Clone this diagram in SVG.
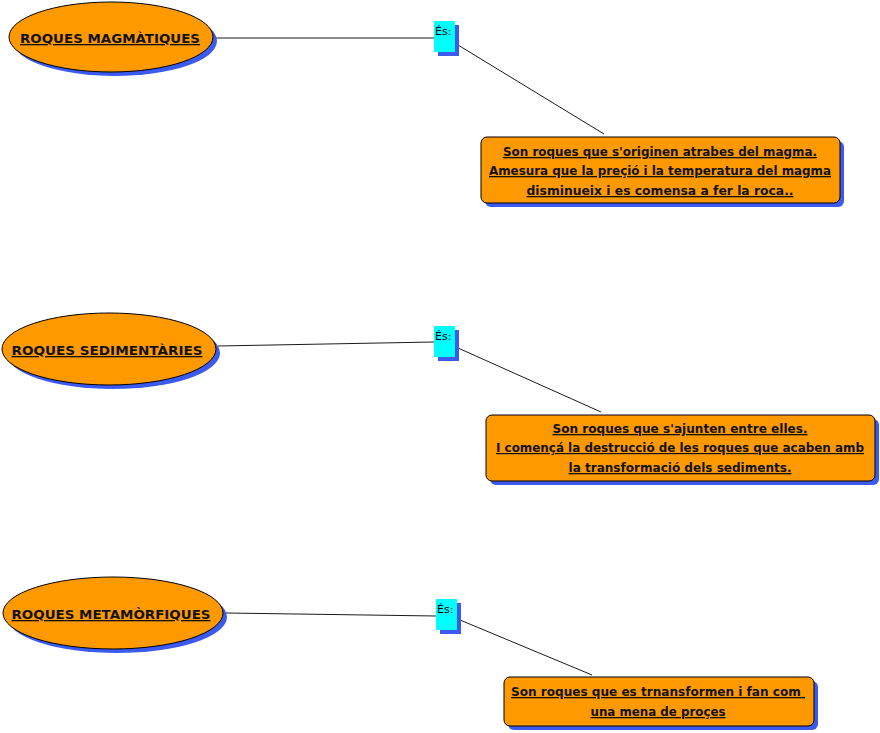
<svg xmlns="http://www.w3.org/2000/svg" width="880" height="733" viewBox="0 0 880 733">
<style>
.sh{fill:#3b5bf0;stroke:none}
.nd{fill:#ff9900;stroke:#000;stroke-width:1}
.es{fill:#00ffff;stroke:none}
.t{font-family:"DejaVu Sans","Liberation Sans",sans-serif;font-weight:bold;font-size:13px;fill:#111;text-decoration:underline;text-anchor:middle}
.e{font-family:"DejaVu Sans","Liberation Sans",sans-serif;font-size:11px;fill:#000}
.c{stroke:#000;stroke-width:0.9;fill:none}
</style>
<rect width="880" height="733" fill="#fff"/>
<g id="connectors">
<line class="c" x1="216" y1="38" x2="434" y2="38"/>
<line class="c" x1="458" y1="45" x2="604" y2="134"/>
<line class="c" x1="218" y1="346" x2="434" y2="342"/>
<line class="c" x1="458" y1="348" x2="601" y2="412"/>
<line class="c" x1="226" y1="613" x2="436" y2="616"/>
<line class="c" x1="460" y1="620" x2="592" y2="675"/>
</g>
<g id="n1">
<ellipse class="sh" cx="115" cy="41" rx="102" ry="35"/>
<ellipse class="nd" cx="111" cy="37" rx="102" ry="35"/>
<text class="t" x="110" y="43" textLength="180" lengthAdjust="spacingAndGlyphs">ROQUES MAGMÀTIQUES</text>
</g>
<g id="es1">
<rect class="sh" x="438" y="25" width="21" height="31"/>
<rect class="es" x="434" y="21" width="21" height="31"/>
<text class="e" x="435" y="35">És:</text>
</g>
<g id="d1">
<rect class="sh" x="485" y="141" width="359" height="66" rx="6"/>
<rect class="nd" x="481" y="137" width="359" height="66" rx="6"/>
<text class="t" x="660" y="156" textLength="314" lengthAdjust="spacingAndGlyphs">Son roques que s'originen atrabes del magma.</text>
<text class="t" x="660" y="175" textLength="342" lengthAdjust="spacingAndGlyphs">Amesura que la preçió i la temperatura del magma</text>
<text class="t" x="660" y="195" textLength="267" lengthAdjust="spacingAndGlyphs">disminueix i es comensa a fer la roca..</text>
</g>
<g id="n2">
<ellipse class="sh" cx="113" cy="353" rx="107" ry="36"/>
<ellipse class="nd" cx="109" cy="349" rx="107" ry="36"/>
<text class="t" x="107" y="355" textLength="191" lengthAdjust="spacingAndGlyphs">ROQUES SEDIMENTÀRIES</text>
</g>
<g id="es2">
<rect class="sh" x="438" y="330" width="21" height="31"/>
<rect class="es" x="434" y="326" width="21" height="31"/>
<text class="e" x="435" y="340">És:</text>
</g>
<g id="d2">
<rect class="sh" x="490" y="419" width="389" height="66" rx="6"/>
<rect class="nd" x="486" y="415" width="389" height="66" rx="6"/>
<text class="t" x="680" y="433" textLength="255" lengthAdjust="spacingAndGlyphs">Son roques que s'ajunten entre elles.</text>
<text class="t" x="680" y="452" style="font-size:12px" textLength="368" lengthAdjust="spacingAndGlyphs">I començá la destrucció de les roques que acaben amb</text>
<text class="t" x="680" y="472" textLength="223" lengthAdjust="spacingAndGlyphs">la transformació dels sediments.</text>
</g>
<g id="n3">
<ellipse class="sh" cx="117" cy="617" rx="110" ry="36"/>
<ellipse class="nd" cx="113" cy="613" rx="110" ry="36"/>
<text class="t" x="111" y="619" textLength="199" lengthAdjust="spacingAndGlyphs">ROQUES METAMÒRFIQUES</text>
</g>
<g id="es3">
<rect class="sh" x="440" y="603" width="21" height="31"/>
<rect class="es" x="436" y="599" width="21" height="31"/>
<text class="e" x="437" y="613">És:</text>
</g>
<g id="d3">
<rect class="sh" x="508" y="681" width="310" height="49" rx="6"/>
<rect class="nd" x="504" y="677" width="310" height="49" rx="6"/>
<text class="t" x="658" y="696" textLength="294" lengthAdjust="spacingAndGlyphs" xml:space="preserve">Son roques que es trnansformen i fan com </text>
<text class="t" x="658" y="716" textLength="135" lengthAdjust="spacingAndGlyphs">una mena de proçes</text>
</g>
</svg>
